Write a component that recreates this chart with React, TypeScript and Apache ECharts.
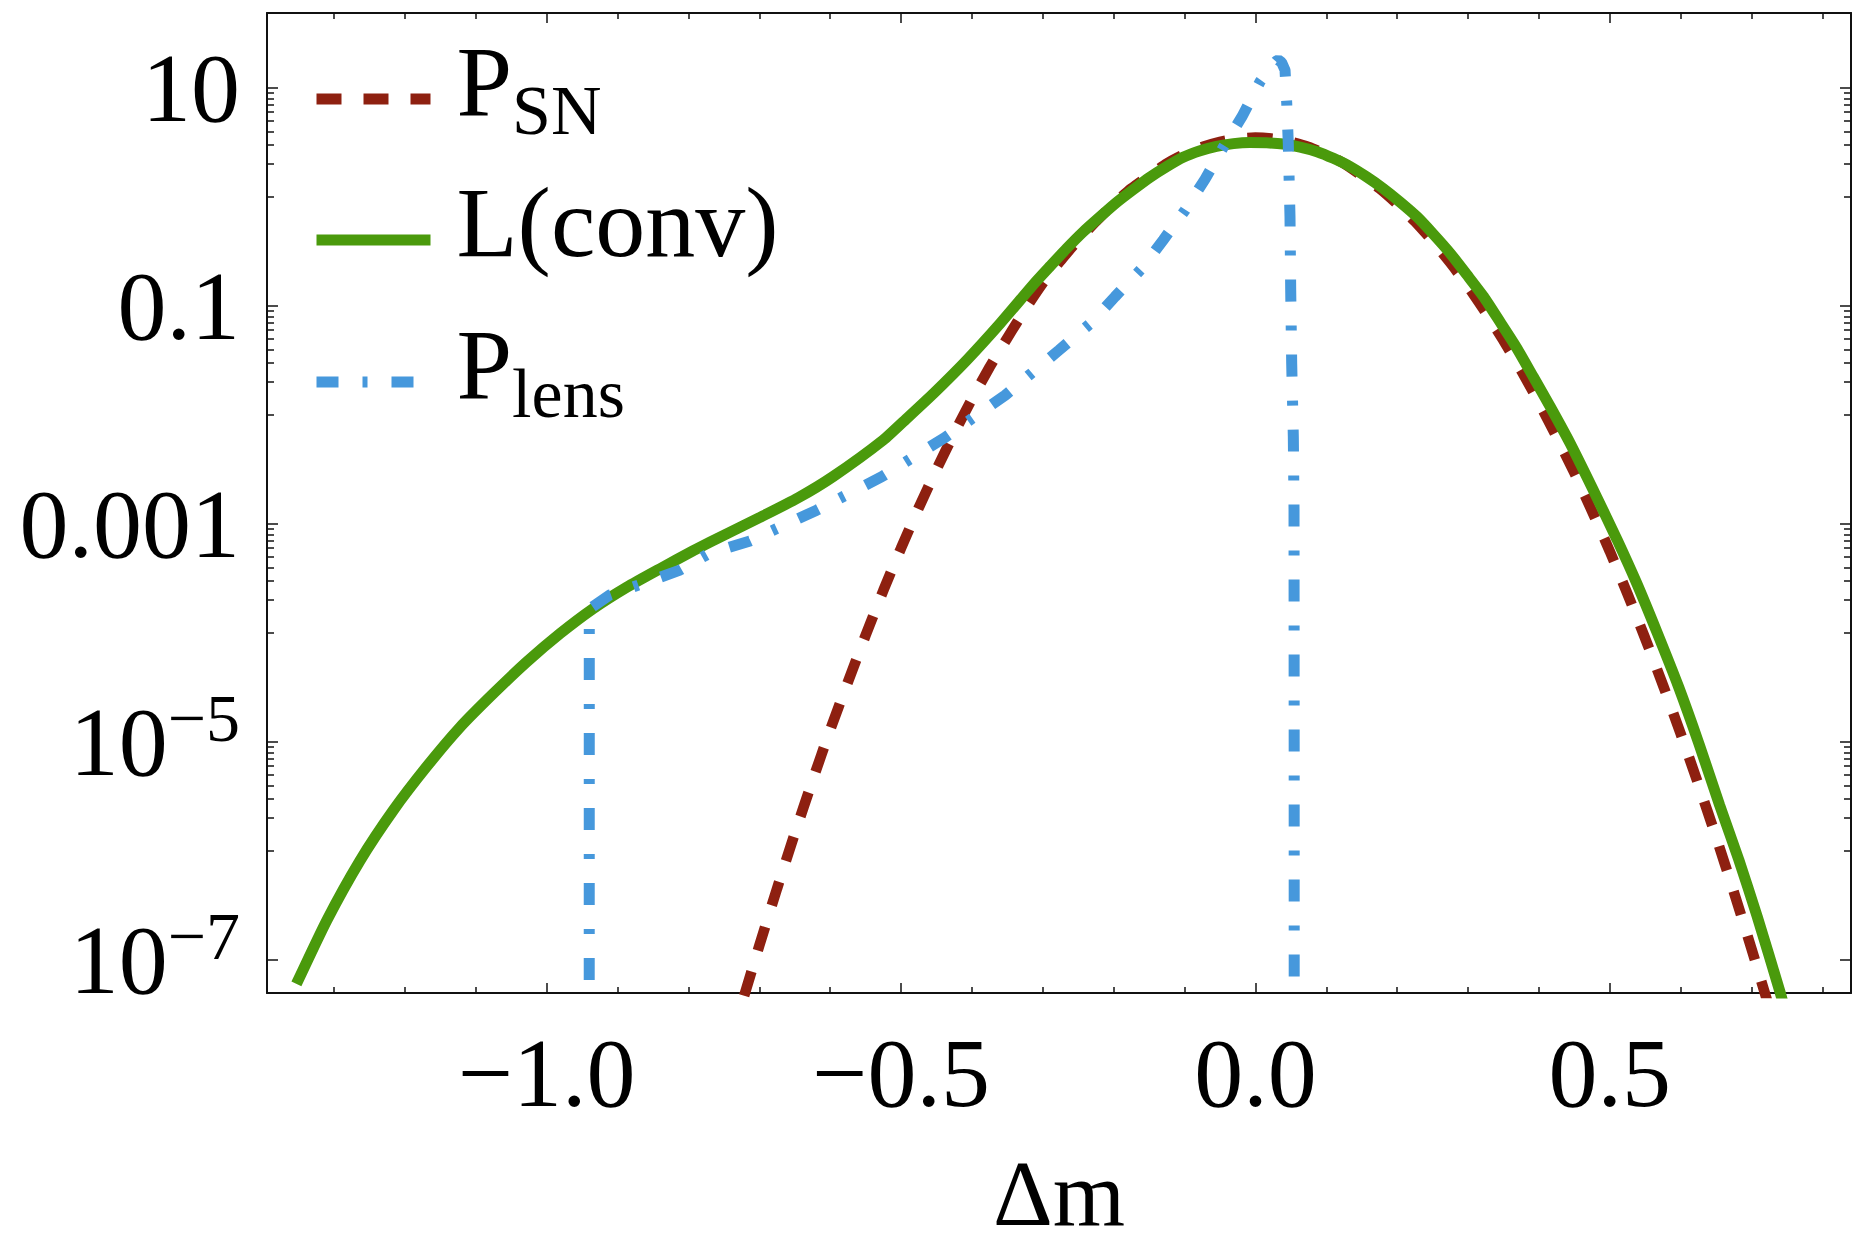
import React, { useEffect, useRef } from "react";
import * as echarts from "echarts";

// ---------- axis ranges & ticks ----------
const X_MIN = -1.3945;
const X_MAX = 0.8403;
const Y_MIN = 4.98e-8;
const Y_MAX = 48.8;

const xTickValues = [-1.0, -0.5, 0.0, 0.5];
const xTickTexts = ["\u22121.0", "\u22120.5", "0.0", "0.5"];
const xMinorTicks = [-1.3, -1.2, -1.1, -0.9, -0.8, -0.7, -0.6, -0.4, -0.3, -0.2, -0.1, 0.1, 0.2, 0.3, 0.4, 0.6, 0.7, 0.8];

const yTickValues = [10, 0.1, 0.001, 1e-5, 1e-7];
const yTickBase = ["10", "0.1", "0.001", "10", "10"];
const yTickExp = ["", "", "", "\u22125", "\u22127"];
const yMinorTicks = [
  9, 8, 7, 6, 5, 4, 3, 2, 1,
  0.09, 0.08, 0.07, 0.06, 0.05, 0.04, 0.03, 0.02, 0.01,
  9e-4, 8e-4, 7e-4, 6e-4, 5e-4, 4e-4, 3e-4, 2e-4, 1e-4,
  9e-6, 8e-6, 7e-6, 6e-6, 5e-6, 4e-6, 3e-6, 2e-6, 1e-6,
];

// ---------- series ----------
const snX = [
  -0.74, -0.725, -0.7, -0.675, -0.65, -0.625, -0.6, -0.575, -0.55, -0.525,
  -0.5, -0.475, -0.45, -0.425, -0.4, -0.375, -0.35, -0.325, -0.3, -0.275,
  -0.25, -0.225, -0.2, -0.175, -0.15, -0.125, -0.1, -0.075, -0.05, -0.025,
  0.0, 0.025, 0.05, 0.075, 0.1, 0.125, 0.15, 0.175, 0.2, 0.225,
  0.25, 0.275, 0.3, 0.325, 0.35, 0.375, 0.4, 0.425, 0.45, 0.475,
  0.5, 0.525, 0.55, 0.575, 0.6, 0.625, 0.65, 0.675, 0.7, 0.72, 0.74,
];
const snY = [
  1.82e-8, 3.9e-8, 1.35e-7, 4.5e-7, 1.44e-6, 4.4e-6, 1.29e-5, 3.55e-5, 9.5e-5, 2.45e-4,
  6.0e-4, 1.41e-3, 3.16e-3, 6.8e-3, 1.4e-2, 2.75e-2, 5.1e-2, 9.3e-2, 0.162, 0.26,
  0.403, 0.597, 0.865, 1.2, 1.57, 2.03, 2.47, 2.88, 3.21, 3.43,
  3.51, 3.43, 3.21, 2.88, 2.47, 2.03, 1.57, 1.2, 0.865, 0.597,
  0.394, 0.249, 0.151, 8.7e-2, 4.83e-2, 2.56e-2, 1.3e-2, 6.3e-3, 2.95e-3, 1.31e-3,
  5.62e-4, 2.28e-4, 8.9e-5, 3.33e-5, 1.19e-5, 4.08e-6, 1.34e-6, 4.21e-7, 1.26e-7, 4.68e-8, 1.7e-8,
];

const convX = [
  -1.353, -1.31, -1.263, -1.216, -1.169, -1.122, -1.075, -1.028, -0.981, -0.934,
  -0.887, -0.84, -0.793, -0.746, -0.699, -0.645, -0.596, -0.525, -0.49, -0.454,
  -0.407, -0.36, -0.313, -0.289, -0.266, -0.243, -0.219, -0.196, -0.172, -0.149,
  -0.125, -0.102, -0.078, -0.055, -0.031, -0.008, 0.016, 0.039, 0.063, 0.087,
  0.11, 0.134, 0.157, 0.18, 0.204, 0.228, 0.251, 0.275, 0.298, 0.322,
  0.345, 0.369, 0.392, 0.416, 0.444, 0.482, 0.51, 0.538, 0.567, 0.597,
  0.626, 0.655, 0.682, 0.708, 0.74, 0.755,
];
const convY = [
  6.03e-8, 2.32e-7, 8.22e-7, 2.38e-6, 5.97e-6, 1.37e-5, 2.79e-5, 5.43e-5, 9.89e-5, 1.68e-4,
  2.63e-4, 3.89e-4, 5.69e-4, 8.13e-4, 1.15e-3, 1.74e-3, 2.72e-3, 5.9e-3, 9.55e-3, 1.58e-2,
  3.2e-2, 6.93e-2, 0.158, 0.234, 0.339, 0.479, 0.661, 0.891, 1.175, 1.514,
  1.905, 2.317, 2.661, 2.917, 3.09, 3.162, 3.141, 3.062, 2.871, 2.606,
  2.265, 1.897, 1.531, 1.202, 0.902, 0.659, 0.457, 0.304, 0.195, 0.1216,
  7.16e-2, 4.09e-2, 2.24e-2, 1.19e-2, 5.5e-3, 1.74e-3, 7.24e-4, 2.86e-4, 1.0e-4, 3.21e-5,
  9.55e-6, 2.63e-6, 8.32e-7, 2.5e-7, 5.13e-8, 2.24e-8,
];

const lensX = [
  -0.94, -0.9398, -0.911, -0.862, -0.812, -0.77, -0.713, -0.619, -0.527, -0.44,
  -0.353, -0.277, -0.233, -0.198, -0.16, -0.13, -0.099, -0.071, -0.045, -0.019,
  0.0065, 0.02, 0.029, 0.0323, 0.037, 0.0418, 0.0442, 0.0464, 0.0488, 0.0498,
  0.0512, 0.0535, 0.0545, 0.0547, 0.0548,
];
const lensY = [
  1e-12, 1.66e-4, 2.23e-4, 2.88e-4, 3.78e-4, 5.4e-4, 7.0e-4, 1.34e-3, 2.72e-3, 6.1e-3,
  1.52e-2, 3.94e-2, 6.9e-2, 0.122, 0.222, 0.404, 0.76, 1.46, 2.89, 5.46,
  11.4, 15.1, 17.6, 18.1, 17.2, 14.6, 7.24, 3.11, 0.659, 0.14,
  2.98e-2, 6.3e-3, 1.34e-3, 1e-5, 1e-12,
];

const FONT = '"Liberation Serif", "Times New Roman", "DejaVu Serif", serif';
const RED = "#8e2010";
const GREEN = "#4a9a0c";
const BLUE = "#4698dc";
const AXIS = "#111111";

const zip = (xs: number[], ys: number[]) => xs.map((x, i) => [x, ys[i]]);

function baseXAxis(pos: "top" | "bottom", major: boolean) {
  return {
    type: "value",
    position: pos,
    min: X_MIN,
    max: X_MAX,
    axisLine: { show: major, onZero: false, lineStyle: { color: AXIS, width: 2 } },
    axisTick: {
      show: true,
      inside: true,
      length: major ? 10 : 6,
      customValues: major ? xTickValues : xMinorTicks,
      lineStyle: { color: AXIS, width: 1.5 },
    },
    axisLabel: { show: false },
    splitLine: { show: false },
  };
}

function baseYAxis(pos: "left" | "right", major: boolean) {
  return {
    type: "log",
    logBase: 10,
    position: pos,
    min: Y_MIN,
    max: Y_MAX,
    axisLine: { show: major, onZero: false, lineStyle: { color: AXIS, width: 2 } },
    axisTick: {
      show: true,
      inside: true,
      length: major ? 11 : 7,
      customValues: major ? yTickValues : yMinorTicks,
      lineStyle: { color: AXIS, width: 1.5 },
    },
    axisLabel: { show: false },
    splitLine: { show: false },
    minorTick: { show: false },
  };
}

function legendFor(name: string, top: number, text: string) {
  return {
    data: [name],
    left: 311,
    top,
    orient: "vertical",
    padding: 0,
    itemWidth: 114,
    itemHeight: 10,
    itemGap: 0,
    selectedMode: false,
    itemStyle: { opacity: 0 },
    lineStyle: { width: 11 },
    formatter: () => text,
    textStyle: {
      rich: {
        p: { fontSize: 100, fontFamily: FONT, color: "#000", lineHeight: 136, verticalAlign: "top", padding: [0, 0, 0, 21] },
        s: { fontSize: 70, fontFamily: FONT, color: "#000", verticalAlign: "bottom", padding: [0, 0, 22, 0] },
      },
    },
  };
}

export default function App() {
  const ref = useRef<HTMLDivElement>(null);
  useEffect(() => {
    if (!ref.current) return;
    const chart = echarts.init(ref.current, undefined, { renderer: "svg" });
    const majorX: any = baseXAxis("bottom", true);
    majorX.axisLabel = {
      show: true,
      customValues: xTickValues,
      margin: 31,
      fontSize: 98,
      fontFamily: FONT,
      color: "#000",
      formatter: (v: number) => {
        const i = xTickValues.findIndex((t) => Math.abs(t - v) < 1e-9);
        return i >= 0 ? xTickTexts[i] : "";
      },
    };
    majorX.name = "\u0394m";
    majorX.nameLocation = "middle";
    majorX.nameGap = 165;
    majorX.nameTextStyle = { fontSize: 93, fontFamily: FONT, color: "#000", lineHeight: 70 };

    const majorY: any = baseYAxis("left", true);
    majorY.axisLabel = {
      show: true,
      customValues: yTickValues,
      margin: 27,
      padding: [0, 0, 9, 0],
      formatter: (v: number) => {
        const i = yTickValues.findIndex((t) => Math.abs(Math.log10(t) - Math.log10(v)) < 1e-6);
        if (i < 0) return "";
        return yTickExp[i] ? `{b|${yTickBase[i]}}{e|${yTickExp[i]}}` : `{b|${yTickBase[i]}}`;
      },
      rich: {
        b: { fontSize: 98, fontFamily: FONT, color: "#000", lineHeight: 107, verticalAlign: "bottom" },
        e: { fontSize: 68, fontFamily: FONT, color: "#000", verticalAlign: "top" },
      },
    };

    const option: any = {
      animation: false,
      backgroundColor: "#ffffff",
      grid: { left: 267, top: 13, right: 1, bottom: 255, containLabel: false, outerBoundsMode: "none" },
      legend: [
        legendFor("P_SN", 31, "{p|P}{s|SN}"),
        legendFor("L(conv)", 172, "{p|L(conv)}"),
        legendFor("P_lens", 314, "{p|P}{s|lens}"),
      ],
      xAxis: [majorX, baseXAxis("bottom", false), baseXAxis("top", true), baseXAxis("top", false)],
      yAxis: [majorY, baseYAxis("left", false), baseYAxis("right", true), baseYAxis("right", false)],
      series: [
        {
          name: "P_SN",
          type: "line",
          data: zip(snX, snY),
          symbol: "none",
          showSymbol: false,
          smooth: 0.2,
          clip: true,
          lineStyle: { color: RED, width: 10.5, type: [25, 22], cap: "butt" },
          itemStyle: { color: RED },
        },
        {
          name: "L(conv)",
          type: "line",
          data: zip(convX, convY),
          symbol: "none",
          showSymbol: false,
          smooth: 0.2,
          clip: true,
          lineStyle: { color: GREEN, width: 11, type: "solid", cap: "butt" },
          itemStyle: { color: GREEN },
        },
        {
          name: "P_lens",
          type: "line",
          data: zip(lensX, lensY),
          symbol: "none",
          showSymbol: false,
          smooth: false,
          clip: true,
          lineStyle: { color: BLUE, width: 11, type: [22, 24, 5, 24], cap: "butt" },
          itemStyle: { color: BLUE },
        },
      ],
    };
    chart.setOption(option);
    return () => chart.dispose();
  }, []);
  return (
    <div
      ref={ref}
      style={{ position: "absolute", left: 0, top: 0, width: 1852, height: 1248, background: "#fff" }}
    />
  );
}
